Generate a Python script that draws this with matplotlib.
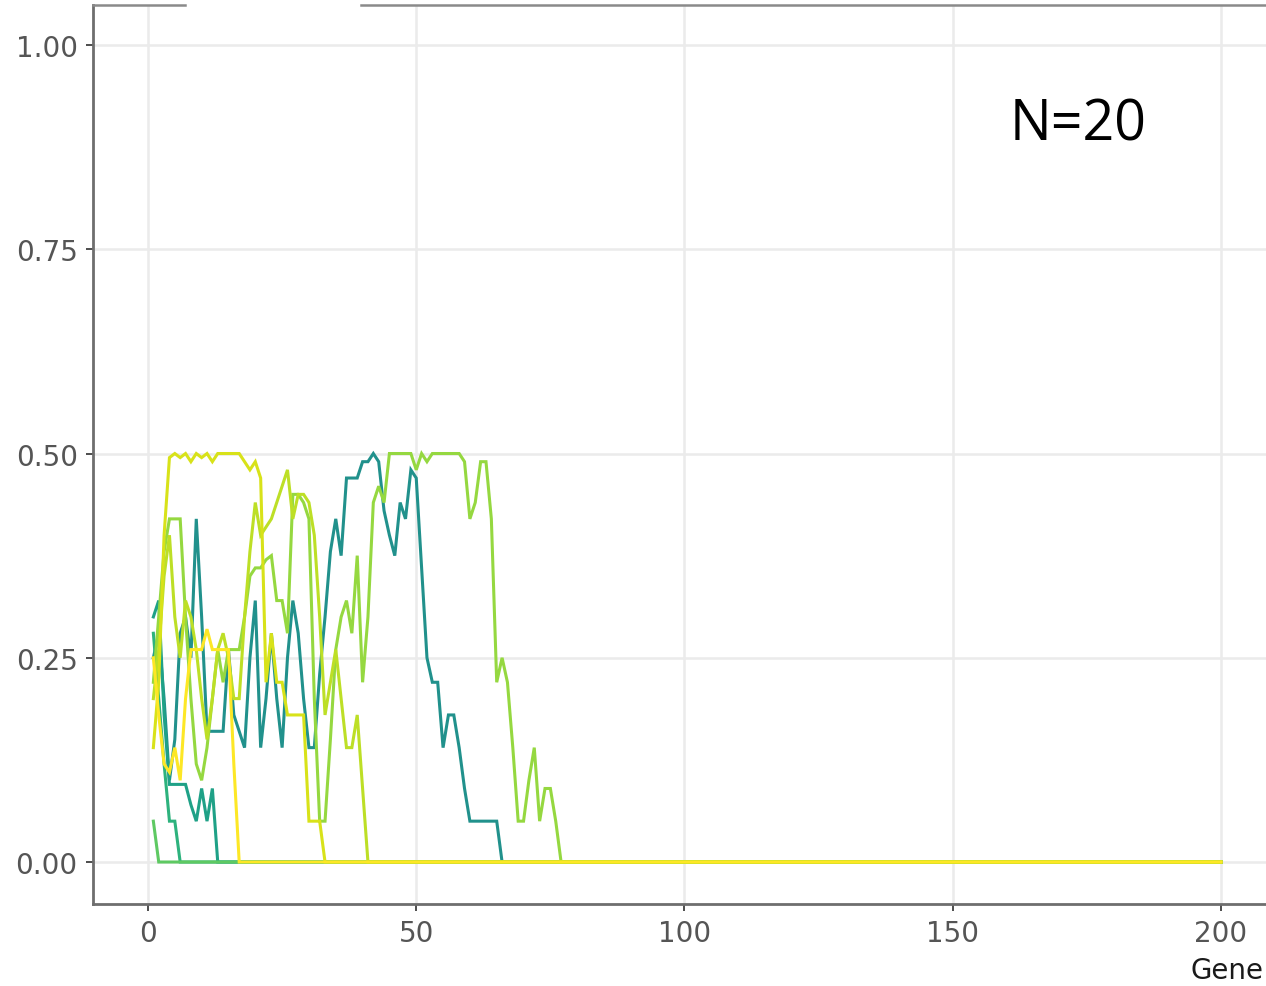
import numpy as np
import matplotlib
matplotlib.use("Agg")
import matplotlib.pyplot as plt
from matplotlib.lines import Line2D

N_GEN = 200
generations = list(range(1, N_GEN + 1))

# allele frequency per generation for each replicate
rep_a = [0.25, 0.28, 0.2, 0.1, 0.15, 0.28, 0.3, 0.25, 0.42, 0.3,
         0.16, 0.16, 0.16, 0.16, 0.26, 0.18, 0.16, 0.14, 0.25, 0.32,
         0.14, 0.2, 0.28, 0.2, 0.14, 0.25, 0.32, 0.28, 0.2, 0.14,
         0.14, 0.23, 0.3, 0.38, 0.42, 0.375, 0.47, 0.47, 0.47, 0.49,
         0.49, 0.5, 0.49, 0.43, 0.4, 0.375, 0.44, 0.42, 0.48, 0.47,
         0.36, 0.25, 0.22, 0.22, 0.14, 0.18, 0.18, 0.14, 0.09, 0.05,
         0.05, 0.05, 0.05, 0.05, 0.05, 0.0]
rep_b = [0.3, 0.32, 0.18, 0.095, 0.095, 0.095, 0.095, 0.07, 0.05, 0.09,
         0.05, 0.09, 0.0]
rep_c = [0.28, 0.2, 0.12, 0.05, 0.05, 0.0]
rep_d = [0.05, 0.0]
rep_e = [0.22, 0.3, 0.38, 0.42, 0.42, 0.42, 0.3, 0.2, 0.12, 0.1,
         0.14, 0.2, 0.26, 0.22, 0.26, 0.26, 0.26, 0.3, 0.35, 0.36,
         0.36, 0.37, 0.375, 0.32, 0.32, 0.28, 0.45, 0.45, 0.44, 0.42,
         0.2, 0.05, 0.05, 0.15, 0.26, 0.3, 0.32, 0.28, 0.375, 0.22,
         0.3, 0.44, 0.46, 0.44, 0.5, 0.5, 0.5, 0.5, 0.5, 0.48,
         0.5, 0.49, 0.5, 0.5, 0.5, 0.5, 0.5, 0.5, 0.49, 0.42,
         0.44, 0.49, 0.49, 0.42, 0.22, 0.25, 0.22, 0.14, 0.05, 0.05,
         0.1, 0.14, 0.05, 0.09, 0.09, 0.05, 0.0]
rep_f = [0.2, 0.26, 0.35, 0.4, 0.3, 0.25, 0.32, 0.3, 0.26, 0.2,
         0.15, 0.2, 0.26, 0.28, 0.25, 0.2, 0.2, 0.3, 0.38, 0.44,
         0.4, 0.41, 0.42, 0.44, 0.46, 0.48, 0.42, 0.45, 0.45, 0.44,
         0.4, 0.3, 0.18, 0.22, 0.26, 0.2, 0.14, 0.14, 0.18, 0.09,
         0.0]
rep_g = [0.14, 0.22, 0.4, 0.495, 0.5, 0.495, 0.5, 0.49, 0.5, 0.495,
         0.5, 0.49, 0.5, 0.5, 0.5, 0.5, 0.5, 0.49, 0.48, 0.49,
         0.47, 0.22, 0.28, 0.22, 0.22, 0.18, 0.18, 0.18, 0.18, 0.05,
         0.05, 0.05, 0.0]
rep_h = [0.25, 0.18, 0.12, 0.11, 0.14, 0.1, 0.2, 0.26, 0.26, 0.26,
         0.285, 0.26, 0.26, 0.26, 0.26, 0.12, 0.0]

replicates = [rep_a, rep_b, rep_c, rep_d, rep_e, rep_f, rep_g, rep_h]
colors = ["#21918c", "#1fa187", "#2db27d", "#5ec962",
          "#95d840", "#bddf26", "#d8e219", "#fde725"]

x_ticks = [0, 50, 100, 150, 200]
y_ticks = [0.0, 0.25, 0.5, 0.75, 1.0]
y_tick_labels = ["0.00", "0.25", "0.50", "0.75", "1.00"]

W, H = 1266, 987
fig = plt.figure(figsize=(W / 100, H / 100), dpi=100)
ax = fig.add_axes([93 / W, (H - 905) / H, 1187 / W, (905 - 6) / H])

for vals, col in zip(replicates, colors):
    full = vals + [0.0] * (N_GEN - len(vals))
    ax.plot(generations, full, color=col, lw=2.2, solid_joinstyle="miter")

ax.set_xlim(-10.25, 211.0)
ax.set_ylim(-0.0514, 1.049)
ax.set_xticks(x_ticks)
ax.set_yticks(y_ticks)
ax.set_yticklabels(y_tick_labels)
ax.grid(True, color="#ebebeb", lw=1.8)
ax.set_axisbelow(True)

for side in ["left", "bottom"]:
    ax.spines[side].set_color("#6e6e6e")
    ax.spines[side].set_linewidth(2.0)
ax.spines["right"].set_visible(False)
ax.spines["top"].set_visible(False)

ax.tick_params(axis="both", colors="#4d4d4d", labelsize=20, length=5,
               width=1.4, labelcolor="#555555")
ax.tick_params(axis="y", pad=6)
ax.tick_params(axis="x", pad=6)
for lab in ax.get_xticklabels() + ax.get_yticklabels():
    lab.set_family("DejaVu Sans")

# top border (partially visible in the screenshot)
fig.add_artist(Line2D([93 / W, 185 / W], [(H - 6) / H] * 2,
                      transform=fig.transFigure, color="#8a8a8a", lw=1.8))
fig.add_artist(Line2D([361 / W, 1.0], [(H - 6) / H] * 2,
                      transform=fig.transFigure, color="#8a8a8a", lw=1.8))

# x-axis title, cut by the screenshot edge as in the reference
fig.text(1264 / W, (H - 971) / H, "Gene", fontsize=20, color="#1a1a1a",
         ha="right", va="center", family="DejaVu Sans")
fig.text(1010 / W, (H - 126) / H, "N=20", fontsize=40, color="black",
         ha="left", va="center", family="Open Sans")

fig.savefig("out.png", dpi=100)
